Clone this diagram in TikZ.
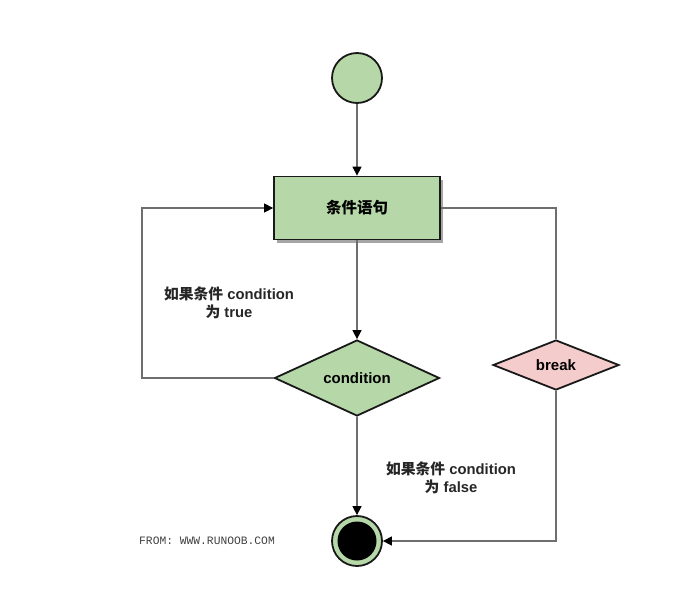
\documentclass[tikz,border=0pt]{standalone}
\usepackage{xcolor}
\usepackage{fontspec}
\setmainfont{Liberation Sans}
\setmonofont{Liberation Mono}
\newfontfamily\cjk{Noto Sans CJK SC}
\usepackage{tikz}
\usetikzlibrary{arrows.meta, shapes.geometric, shadows}

\definecolor{stategreen}{RGB}{182,215,168}
\definecolor{breakpink}{RGB}{245,204,204}
\definecolor{linegray}{RGB}{110,110,110}

\begin{document}
\begin{tikzpicture}[x=1pt, y=-1pt,
    shapeline/.style={draw=black!90, line width=1.8pt},
    stmtbox/.style={shapeline, rectangle, fill=stategreen, minimum width=166pt, minimum height=63pt,
        font=\fontsize{15.5}{17}\selectfont\bfseries,
        drop shadow={shadow xshift=3pt, shadow yshift=-3pt, fill=black!35, opacity=1}},
    decide/.style={shapeline, diamond, aspect=2, inner sep=0pt, font=\fontsize{15}{17}\selectfont\bfseries},
    note/.style={align=center, text=black!85, font=\fontsize{14.8}{17.5}\selectfont\bfseries},
    conn/.style={draw=linegray, line width=1.4pt, -{Triangle[length=9pt, width=9pt, color=black]}},
    plainconn/.style={draw=linegray, line width=1.4pt}]
\useasboundingbox (0,0) rectangle (692,592);

% Draw states
\node[shapeline, circle, fill=stategreen, minimum size=50pt] (start) at (357,78) {};
\node[stmtbox] (stmt) at (357,208) {\cjk 条件语句};
\node[decide, fill=stategreen, minimum width=165pt, minimum height=76pt] (cond) at (357,378) {condition};
\node[decide, fill=breakpink, minimum width=126pt, minimum height=50pt] (brk) at (556,365) {break};
\node[shapeline, circle, fill=stategreen, minimum size=50pt] (end) at (357,541) {};
\fill[black] (end.center) circle (19.5);

% Draw connectors
\coordinate (loop) at (142,378);
\draw[conn] (start) -- (stmt);
\draw[conn] (stmt) -- (cond);
\draw[conn] (cond) -- (end);
\draw[conn] (cond.west) -- (loop) |- (stmt.west);
\draw[plainconn] (stmt.east) -| (brk.north);
\draw[conn] (brk.south) |- (end.east);

% Labels
\node[note] (truenote) at (229,303) {{\cjk 如果条件} condition\\{\cjk 为} true};
\node[note] (falsenote) at (451,478) {{\cjk 如果条件} condition\\{\cjk 为} false};
\node[font=\ttfamily\fontsize{11.3}{13}\selectfont, text=black!75] (from) at (207,541) {FROM: WWW.RUNOOB.COM};
\end{tikzpicture}
\end{document}
